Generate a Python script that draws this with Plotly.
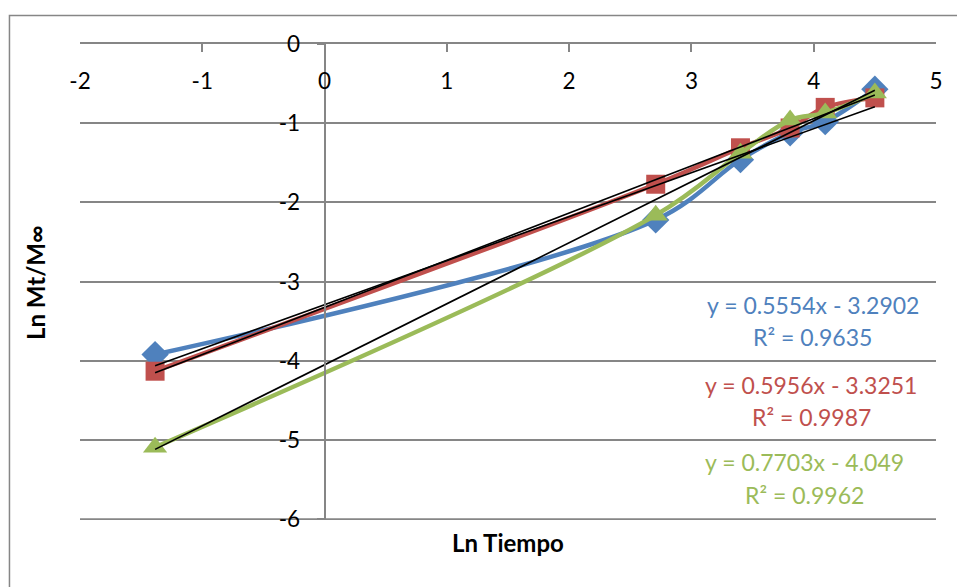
import plotly.graph_objects as go

# ---- data ----
ln_tiempo = [-1.386, 2.708, 3.401, 3.807, 4.094, 4.500]
serie_azul = [-3.92, -2.22, -1.46, -1.12, -0.98, -0.57]
serie_roja = [-4.13, -1.77, -1.31, -1.06, -0.80, -0.68]
serie_verde = [-5.09, -2.16, -1.38, -0.96, -0.87, -0.62]

pendientes = [0.5554, 0.5956, 0.7703]
intercepciones = [-3.2902, -3.3251, -4.049]
r2 = [0.9635, 0.9987, 0.9962]

x_ticks = [-2, -1, 0, 1, 2, 3, 4, 5]
y_ticks = [0, -1, -2, -3, -4, -5, -6]

colores = ["#4F81BD", "#C0504D", "#9BBB59"]
simbolos = ["diamond", "square", "triangle-up"]
tamanos = [21, 19, 21]
series = [serie_azul, serie_roja, serie_verde]

FONT = "Lato"
GRAY = "#868686"

fig = go.Figure()

for ys, c, s, sz in zip(series, colores, simbolos, tamanos):
    fig.add_trace(go.Scatter(
        x=ln_tiempo, y=ys, mode="lines+markers",
        line=dict(color=c, width=4.5, shape="spline", smoothing=1.0),
        marker=dict(symbol=s, size=sz, color=c, line=dict(width=0)),
        showlegend=False, hoverinfo="skip"))

xmin, xmax = min(ln_tiempo), max(ln_tiempo)
for m, b in zip(pendientes, intercepciones):
    fig.add_trace(go.Scatter(
        x=[xmin, xmax], y=[m * xmin + b, m * xmax + b], mode="lines",
        xaxis="x2", yaxis="y",
        line=dict(color="black", width=1.6), showlegend=False, hoverinfo="skip"))

# equation labels
eq_pos = [(0.8563, 0.4517, 0.3845), (0.8540, 0.2836, 0.2164), (0.8458, 0.1218, 0.0525)]
for (m, b, r, c, (px, y1, y2)) in zip(pendientes, intercepciones, r2, colores, eq_pos):
    sign = "-" if b < 0 else "+"
    fig.add_annotation(xref="paper", yref="paper", x=px, y=y1, showarrow=False,
                       text=f"y = {m}x {sign} {abs(b)}",
                       font=dict(family=FONT, size=23, color=c),
                       xanchor="center", yanchor="middle")
    fig.add_annotation(xref="paper", yref="paper", x=px, y=y2, showarrow=False,
                       text=f"R² = {r}",
                       font=dict(family=FONT, size=23, color=c),
                       xanchor="center", yanchor="middle")

# axis titles
fig.add_annotation(xref="paper", yref="paper", x=0.5, y=-0.0483, showarrow=False,
                   text="Ln Tiempo", font=dict(family=FONT, size=24, color="black", weight=700),
                   xanchor="center", yanchor="middle")
fig.add_annotation(xref="paper", yref="paper", x=-0.0526, y=0.5, showarrow=False,
                   text="Ln Mt/M∞", textangle=-90,
                   font=dict(family=FONT, size=24, color="black", weight=700),
                   xanchor="center", yanchor="middle")

# outer chart border
fig.add_shape(type="rect", xref="paper", yref="paper",
              x0=-0.0824, x1=1.04, y0=-0.17, y1=1.0599,
              line=dict(color=GRAY, width=1.5), fillcolor="rgba(0,0,0,0)", layer="below")

# bottom gridline (plotly skips the gridline at the range edge)
fig.add_shape(type="line", xref="paper", yref="y", x0=0, x1=1,
              y0=min(y_ticks), y1=min(y_ticks),
              line=dict(color=GRAY, width=2), layer="below")

tickfont = dict(family=FONT, size=22.5, color="black")

fig.update_layout(
    width=957, height=587, autosize=False,
    margin=dict(l=80, r=21, t=44, b=67),
    paper_bgcolor="white", plot_bgcolor="white",
    font=dict(family=FONT, color="black"),
    xaxis=dict(range=[-2, 5], side="top", tickmode="array", tickvals=x_ticks,
               showticklabels=False,
               ticks="inside", ticklen=8, tickwidth=2, tickcolor=GRAY,
               showline=True, linecolor=GRAY, linewidth=2,
               showgrid=False, zeroline=False),
    xaxis2=dict(range=[-2, 5], overlaying="x", anchor="free", position=1.0,
                side="bottom", tickmode="array", tickvals=x_ticks,
                ticktext=[str(v) for v in x_ticks],
                ticks="", ticklabelstandoff=21,
                showline=False, showgrid=False, zeroline=False,
                tickfont=tickfont),
    yaxis=dict(range=[-6.008, 0], tickmode="array", tickvals=y_ticks,
               ticktext=[str(v) for v in y_ticks],
               anchor="free", position=2 / 7,
               ticks="outside", ticklen=7, tickwidth=2, tickcolor=GRAY,
               ticklabelstandoff=12,
               showline=True, linecolor=GRAY, linewidth=2,
               showgrid=True, gridcolor=GRAY, gridwidth=2, zeroline=False,
               tickfont=tickfont),
)

fig.write_html("out.html")
